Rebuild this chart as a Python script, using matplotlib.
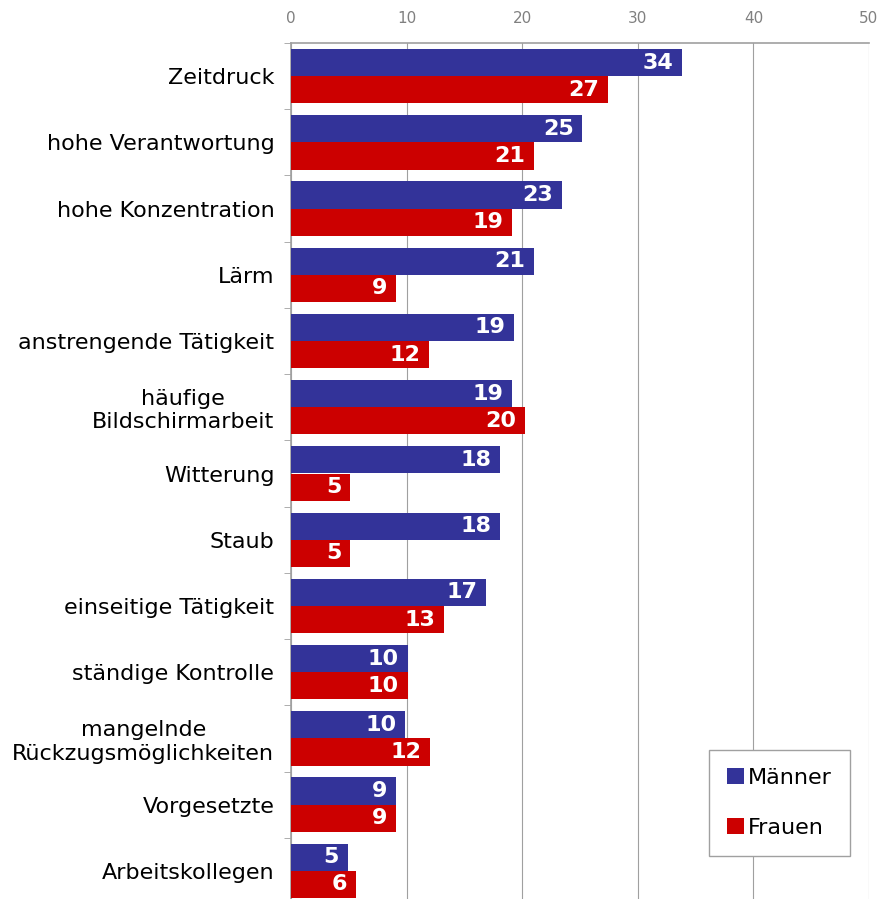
import numpy as np
import matplotlib.pyplot as plt
from matplotlib.ticker import FixedLocator

BLUE = "#333399"
RED = "#CC0000"
GREY = "#A0A0A0"

categories = ["Zeitdruck", "hohe Verantwortung", "hohe Konzentration", "Lärm",
              "anstrengende Tätigkeit", "häufige\nBildschirmarbeit", "Witterung",
              "Staub", "einseitige Tätigkeit", "ständige Kontrolle",
              "mangelnde\nRückzugsmöglichkeiten", "Vorgesetzte", "Arbeitskollegen"]
maenner = [33.8, 25.2, 23.4, 21.0, 19.3, 19.1, 18.1, 18.1, 16.9, 10.1, 9.9, 9.1, 4.9]
frauen = [27.4, 21.0, 19.1, 9.1, 11.9, 20.2, 5.1, 5.1, 13.2, 10.1, 12.0, 9.1, 5.6]

fig = plt.figure(figsize=(8.78, 8.99), dpi=100)
# plot area: x 291..869 px, y 43..904 px (last band runs slightly off the image)
ax = fig.add_axes([291/878, 1 - 904/899, (869-291)/878, (904-43)/899])

y = np.arange(len(categories))
h = 0.41
b1 = ax.barh(y - h/2, maenner, height=h, color=BLUE, label="Männer", zorder=3)
b2 = ax.barh(y + h/2, frauen, height=h, color=RED, label="Frauen", zorder=3)

for bars, vals in ((b1, maenner), (b2, frauen)):
    for bar, v in zip(bars, vals):
        ax.text(v - 0.75, bar.get_y() + bar.get_height()/2, f"{v:.0f}",
                ha="right", va="center", color="white", fontsize=16,
                fontweight="bold", zorder=4)

ax.set_xlim(0, 50)
ax.set_ylim(len(categories) - 0.5, -0.5)
ax.set_xticks(range(0, 51, 10))
ax.xaxis.tick_top()
ax.tick_params(axis="x", length=0, labelsize=11, labelcolor="#808080", pad=12)
ax.grid(axis="x", color=GREY, linewidth=0.8, zorder=0)

ax.set_yticks(y)
ax.set_yticklabels(categories, fontsize=16, ha="right", multialignment="center")
ax.tick_params(axis="y", which="major", length=0, pad=12)
ax.yaxis.set_minor_locator(FixedLocator(np.arange(-0.5, len(categories), 1)))
ax.tick_params(axis="y", which="minor", length=5, color=GREY, direction="out")

for s in ("right", "bottom"):
    ax.spines[s].set_visible(False)
for s in ("left", "top"):
    ax.spines[s].set_color(GREY)
    ax.spines[s].set_linewidth(1.2)

leg = ax.legend(loc="lower right", bbox_to_anchor=(0.967, 0.056), fontsize=16,
                handlelength=0.75, handleheight=0.75, handletextpad=0.2,
                labelspacing=1.35, borderpad=0.8, borderaxespad=0, fancybox=False,
                edgecolor=GREY, framealpha=1)
leg.get_frame().set_linewidth(1.0)

fig.savefig("out.png", dpi=100)
